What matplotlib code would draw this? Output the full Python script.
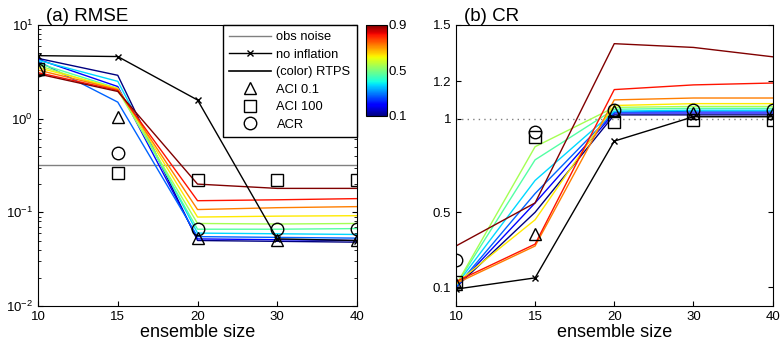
import numpy as np
import matplotlib
matplotlib.use('Agg')
import matplotlib.pyplot as plt
from matplotlib.lines import Line2D

plt.rcParams['font.family'] = ['Liberation Sans', 'DejaVu Sans']
plt.rcParams['mathtext.fontset'] = 'custom'
plt.rcParams['mathtext.rm'] = 'Liberation Sans'
plt.rcParams['mathtext.default'] = 'regular'

# ensemble sizes (equally spaced categories)
ens = ['10', '15', '20', '30', '40']
# RTPS parameter of each coloured line (position on the colour bar)
rtps = [0.1, 0.19, 0.28, 0.37, 0.46, 0.54, 0.63, 0.72, 0.81, 0.9]

# (a) RMSE
obs_noise = 0.316
rmse_noinf = [4.7, 4.6, 1.58, 0.052, 0.05]
rmse_rtps = [
    [4.4, 2.9, 0.050, 0.049, 0.048],
    [4.3, 2.2, 0.052, 0.051, 0.050],
    [4.1, 1.5, 0.055, 0.054, 0.053],
    [4.2, 2.5, 0.060, 0.059, 0.058],
    [3.9, 2.1, 0.066, 0.066, 0.067],
    [3.7, 2.0, 0.076, 0.075, 0.076],
    [3.5, 2.1, 0.089, 0.091, 0.092],
    [3.3, 2.05, 0.107, 0.112, 0.115],
    [3.1, 2.0, 0.133, 0.136, 0.14],
    [3.0, 1.95, 0.20, 0.18, 0.18],
]
rmse_aci01 = [3.4, 1.05, 0.053, 0.051, 0.051]
rmse_aci100 = [3.4, 0.26, 0.22, 0.22, 0.22]
rmse_acr = [3.3, 0.43, 0.066, 0.066, 0.066]

# (b) CR
cr_noinf = [0.09, 0.15, 0.88, 1.01, 1.01]
cr_rtps = [
    [0.10, 0.50, 1.02, 1.02, 1.02],
    [0.10, 0.55, 1.03, 1.03, 1.03],
    [0.10, 0.60, 1.035, 1.04, 1.04],
    [0.11, 0.67, 1.04, 1.045, 1.045],
    [0.11, 0.78, 1.05, 1.055, 1.055],
    [0.11, 0.85, 1.06, 1.065, 1.065],
    [0.12, 0.46, 1.07, 1.08, 1.08],
    [0.12, 0.32, 1.10, 1.11, 1.11],
    [0.13, 0.33, 1.155, 1.18, 1.19],
    [0.32, 0.55, 1.40, 1.38, 1.33],
]
cr_aci01 = [0.12, 0.385, 1.04, 1.03, 1.03]
cr_aci100 = [0.13, 0.90, 0.98, 0.99, 0.99]
cr_acr = [0.245, 0.93, 1.045, 1.045, 1.045]

x = np.arange(len(ens))
cmap = plt.get_cmap('jet')
norm = matplotlib.colors.Normalize(vmin=0.1, vmax=0.9)

fig = plt.figure(figsize=(7.82, 3.44), dpi=100)
ax1 = fig.add_axes([0.0486, 0.1105, 0.408, 0.817])
ax2 = fig.add_axes([0.583, 0.1105, 0.405, 0.817])

mk = dict(linestyle='none', mfc='none', mec='black', mew=1.0, ms=9)

# left panel
ax1.axhline(obs_noise, color='gray', lw=1)
for a, vals in zip(rtps, rmse_rtps):
    ax1.plot(x, vals, color=cmap(norm(a)), lw=1)
ax1.plot(x, rmse_noinf, color='black', lw=1, marker='x', ms=5)
ax1.plot(x, rmse_aci01, marker='^', **mk)
ax1.plot(x, rmse_aci100, marker='s', **dict(mk, ms=8))
ax1.plot(x, rmse_acr, marker='o', **mk)
ax1.set_yscale('log')
ax1.set_ylim(1e-2, 1e1)
ax1.set_yticks([1e-2, 1e-1, 1e0, 1e1])
ax1.set_yticklabels(['$10^{-2}$', '$10^{-1}$', '$10^{0}$', '$10^{1}$'])
ax1.set_title('(a) RMSE', loc='left', fontsize=13.5, pad=2, x=0.025)

# right panel
ax2.axhline(1, color='gray', lw=1, linestyle=(0, (1, 3)))
for a, vals in zip(rtps, cr_rtps):
    ax2.plot(x, vals, color=cmap(norm(a)), lw=1)
ax2.plot(x, cr_noinf, color='black', lw=1, marker='x', ms=5)
ax2.plot(x, cr_aci01, marker='^', **mk)
ax2.plot(x, cr_aci100, marker='s', **dict(mk, ms=8))
ax2.plot(x, cr_acr, marker='o', **mk)
ax2.set_ylim(0, 1.5)
ax2.set_yticks([0.1, 0.5, 1, 1.2, 1.5])
ax2.set_yticklabels(['0.1', '0.5', '1', '1.2', '1.5'])
ax2.set_title('(b) CR', loc='left', fontsize=13.5, pad=2, x=0.025)

for ax in (ax1, ax2):
    ax.set_xlim(0, 4)
    ax.set_xticks(x)
    ax.set_xticklabels(ens)
    ax.set_xlabel('ensemble size', fontsize=13, labelpad=1)
    ax.tick_params(which='both', direction='in', top=True, right=True, labelsize=9.5)
    ax.tick_params(axis='x', which='both', top=False)

handles = [
    Line2D([], [], color='gray', lw=1),
    Line2D([], [], color='black', lw=1, marker='x', ms=5),
    Line2D([], [], color='black', lw=1.2),
    Line2D([], [], marker='^', **mk),
    Line2D([], [], marker='s', **dict(mk, ms=8)),
    Line2D([], [], marker='o', **mk),
]
labels = ['obs noise', 'no inflation', '(color) RTPS', 'ACI 0.1', 'ACI 100', 'ACR']
leg = ax1.legend(handles, labels, loc='upper right', fontsize=9.3, fancybox=False,
                 framealpha=1, edgecolor='black', borderaxespad=0, handlelength=3.2,
                 labelspacing=0.42, borderpad=0.5, handletextpad=0.45)
leg.get_frame().set_linewidth(1)

cax = fig.add_axes([0.468, 0.663, 0.027, 0.265])
cb = fig.colorbar(matplotlib.cm.ScalarMappable(norm=norm, cmap=cmap), cax=cax,
                  ticks=[0.1, 0.5, 0.9])
cb.ax.set_yticklabels(['0.1', '0.5', '0.9'])
cb.ax.tick_params(labelsize=9.5, length=0, pad=1)

fig.savefig('out.png', dpi=100)
